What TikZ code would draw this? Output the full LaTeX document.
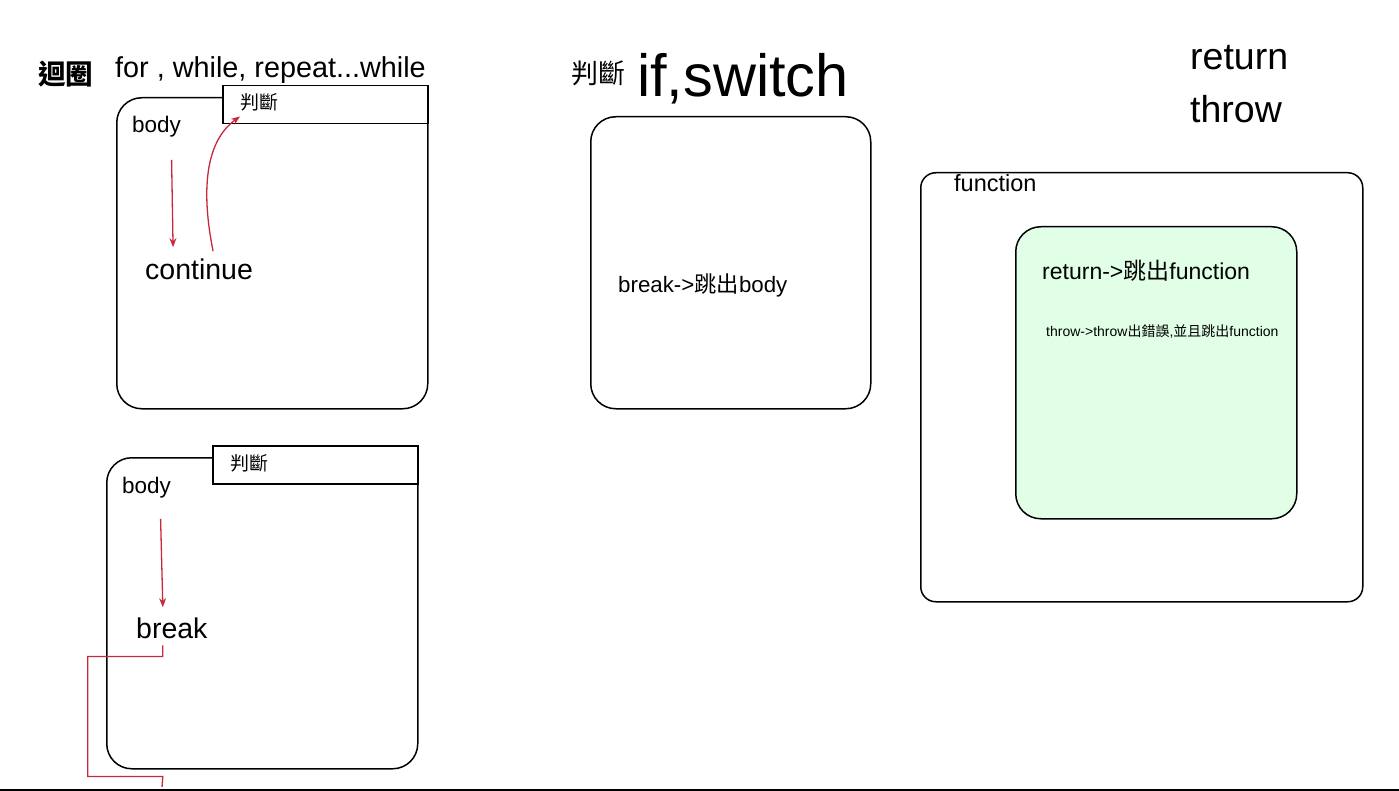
\documentclass[tikz,border=0pt]{standalone}
\usepackage{fontspec}
\setmainfont{Liberation Sans}
\newfontfamily\cjk{Noto Sans CJK TC}
\usetikzlibrary{arrows.meta}
\definecolor{flowred}{RGB}{200,40,60}
\definecolor{boxgreen}{RGB}{224,255,230}
\newcommand{\setfs}[1]{\fontsize{#1}{#1}\selectfont}
\tikzset{
  frame/.style={draw, line width=1.5pt, rounded corners=25pt, inner sep=0pt,
    anchor=north west},
  judgebox/.style={draw, line width=1.5pt, fill=white, inner sep=0pt,
    anchor=north west, minimum width=205pt, minimum height=38pt},
  label/.style={inner sep=0pt, anchor=base west},
  flow/.style={flowred, line width=1.3pt, -{Stealth[length=9pt,width=7pt]}},
  flowline/.style={flowred, line width=1.3pt},
}
% loop box with its judgement bar: x, y of the top left corner, name prefix
\newcommand{\drawloop}[3]{
  \node[frame, minimum width=311pt, minimum height=311pt] (#3box) at (#1, #2) {};
  \node[judgebox] (#3judge) at (#1 + 106, #2 - 12) {};
  \node[label, font=\setfs{19}\cjk] (#3judgetext) at (#1 + 124, #2 + 13) {判斷};
  \node[label, font=\setfs{22.5}] (#3body) at (#1 + 16, #2 + 36) {body};
}

\begin{document}
\begin{tikzpicture}[x=1pt, y=-1pt]
  \useasboundingbox (0, 0) rectangle (1399, 791);

  % loops
  \node[label, font=\setfs{27.5}\cjk\bfseries] (looptitle) at (38, 85) {迴圈};
  \node[label, font=\setfs{28.8}] (loopkinds) at (115, 78) {for , while, repeat...while};

  \drawloop{116}{97}{t}
  \node[label, font=\setfs{28.5}] (tcont) at (145, 280) {continue};
  \draw[flow] ([xshift=15pt, yshift=-22pt]tbody.south)
    -- ([xshift=-26pt, yshift=12pt]tcont.north);
  \draw[flow] ([xshift=14pt, yshift=8pt]tcont.north)
    .. controls +(-12, -60) and +(-35, 25) .. ([xshift=18pt, yshift=8pt]tjudge.south west);

  \drawloop{106}{457}{b}
  \node[label, font=\setfs{28.5}] (bbreak) at (136, 638) {break};
  \draw[flow] ([xshift=14pt, yshift=-21pt]bbody.south)
    -- ([xshift=-9pt, yshift=10pt]bbreak.north);
  \coordinate (bexit) at (162, 787);
  \draw[flowline] ([xshift=-9pt, yshift=-7pt]bbreak.south)
    -- ++(0, 11) -- ++(-75, 0) -- ++(0, 120) -- ++(75, 0) -- (bexit);

  % if, switch
  \node[label, font=\setfs{27}\cjk] (iftitle) at (571, 84) {判斷};
  \node[label, font=\setfs{59.5}] (ifkinds) at (637, 97) {if,switch};
  \node[frame, minimum width=280pt, minimum height=292pt] (ifbox) at (590, 116) {};
  \node[label, font=\setfs{22.3}] (ifbreak) at (618, 293) {break->{\cjk 跳出}body};

  % return, throw
  \node[label, font=\setfs{37.5}] (rettitle) at (1190, 70) {return};
  \node[label, font=\setfs{37.5}] (throwtitle) at (1190, 123) {throw};
  \node[frame, rounded corners=15pt, minimum width=442pt, minimum height=429pt]
    (funcbox) at (920, 172) {};
  \node[label, font=\setfs{23.5}] (functext) at (954, 192) {function};
  \node[frame, fill=boxgreen, minimum width=281pt, minimum height=292pt]
    (innerbox) at (1015, 226) {};
  \node[label, font=\setfs{23}] (rettext) at (1042, 280) {return->{\cjk 跳出}function};
  \node[label, font=\setfs{14}] (throwtext) at (1046, 337)
    {throw->throw{\cjk 出錯誤},{\cjk 並且跳出}function};

  \draw[line width=2pt] (0, 789.5) -- (1399, 789.5);
\end{tikzpicture}
\end{document}
